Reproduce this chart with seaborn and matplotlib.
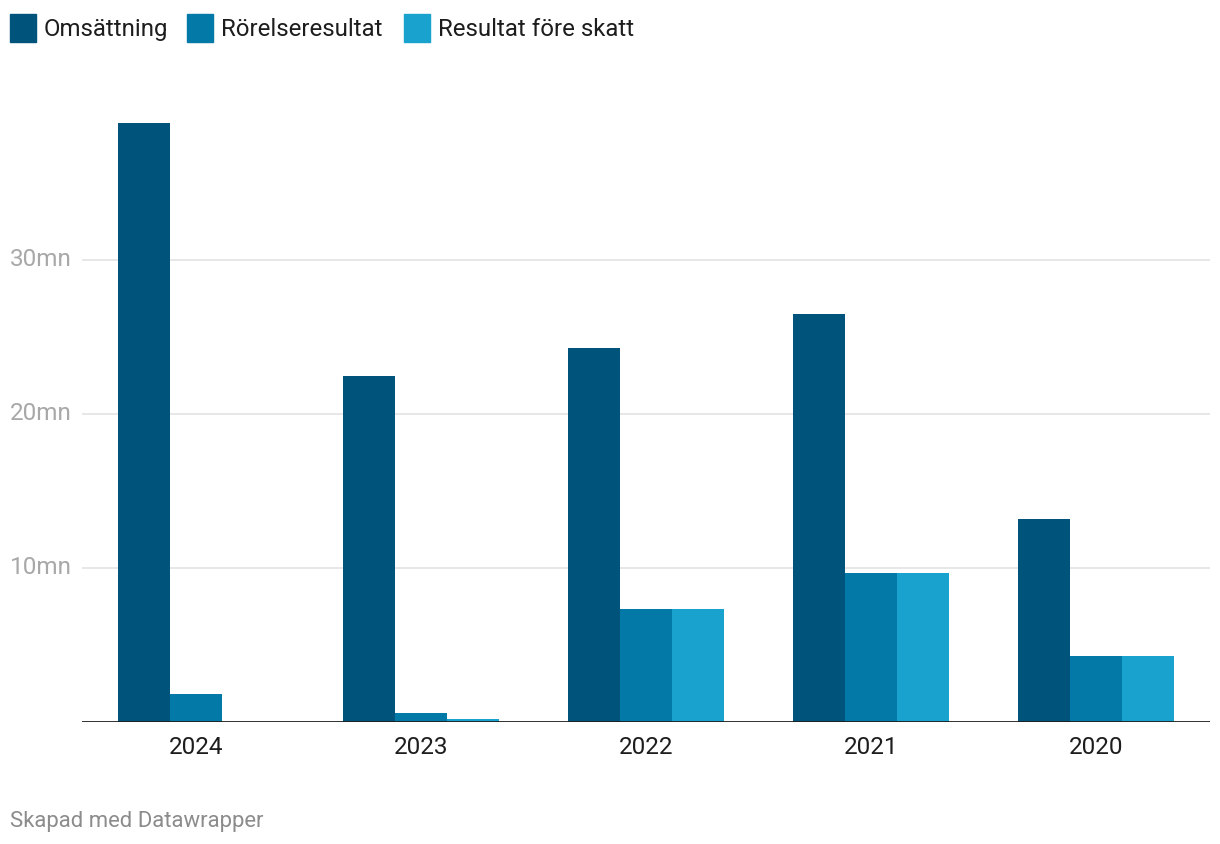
import matplotlib
matplotlib.use("Agg")
import matplotlib.pyplot as plt
import matplotlib.transforms as mtransforms
from matplotlib.patches import Rectangle
import pandas as pd
import seaborn as sns

years = ["2024", "2023", "2022", "2021", "2020"]
series = ["Omsättning", "Rörelseresultat", "Resultat före skatt"]
omsattning = [38.9, 22.5, 24.3, 26.5, 13.2]
rorelseresultat = [1.82, 0.58, 7.35, 9.7, 4.3]
resultat_fore_skatt = [0.0, 0.2, 7.35, 9.7, 4.3]
yticks = [10, 20, 30]
ytick_labels = ["10mn", "20mn", "30mn"]
colors = ["#00547c", "#0279a6", "#18a2cd"]

df = pd.DataFrame({
    "year": years * 3,
    "serie": [s for s in series for _ in years],
    "value": omsattning + rorelseresultat + resultat_fore_skatt,
})

sns.set_style("white")
plt.rcParams["font.family"] = ["Roboto", "DejaVu Sans"]

W, H = 1220, 844
fig = plt.figure(figsize=(W / 100, H / 100), dpi=100)
ax = fig.add_axes([82 / W, 1 - 722 / H, (1210 - 82) / W, (722 - 100) / H])

sns.barplot(data=df, x="year", y="value", hue="serie", order=years,
            hue_order=series, palette=colors, width=0.695, gap=0,
            saturation=1, linewidth=0, legend=False, ax=ax)

ax.set_xlim(-0.507, 4.507)
ax.set_ylim(0, (722 - 100) / 15.4)
ax.set_xlabel("")
ax.set_ylabel("")
for s in ax.spines.values():
    s.set_visible(False)
ax.axhline(0, color="#1d1d1d", lw=2, zorder=5)
ax.set_yticks(yticks)
ax.set_yticklabels([])
ax.tick_params(axis="y", length=0)
ax.tick_params(axis="x", length=0, labelsize=17.5, colors="#1d1d1d", pad=10)
ax.grid(axis="y", color="#e3e3e3", lw=1.2)
ax.set_axisbelow(True)

trans = mtransforms.blended_transform_factory(fig.transFigure, ax.transData)
for v, lab in zip(yticks, ytick_labels):
    fig.text(10 / W, v, lab, transform=trans, ha="left", va="center",
             fontsize=17.5, color="#a8a8a8")

# legend drawn by hand, Datawrapper style
legend_x = [10, 187, 404]
for x0, lab, c in zip(legend_x, series, colors):
    fig.patches.append(Rectangle((x0 / W, 1 - 42 / H), 26 / W, 28 / H,
                                 transform=fig.transFigure, color=c))
    fig.text((x0 + 34) / W, 1 - 29.5 / H, lab, ha="left", va="center",
             fontsize=17.3, color="#1d1d1d")

fig.text(10 / W, 1 - 821 / H, "Skapad med Datawrapper", ha="left",
         va="center", fontsize=15.9, color="#8c8c8c")

fig.savefig("out.png", dpi=100)
